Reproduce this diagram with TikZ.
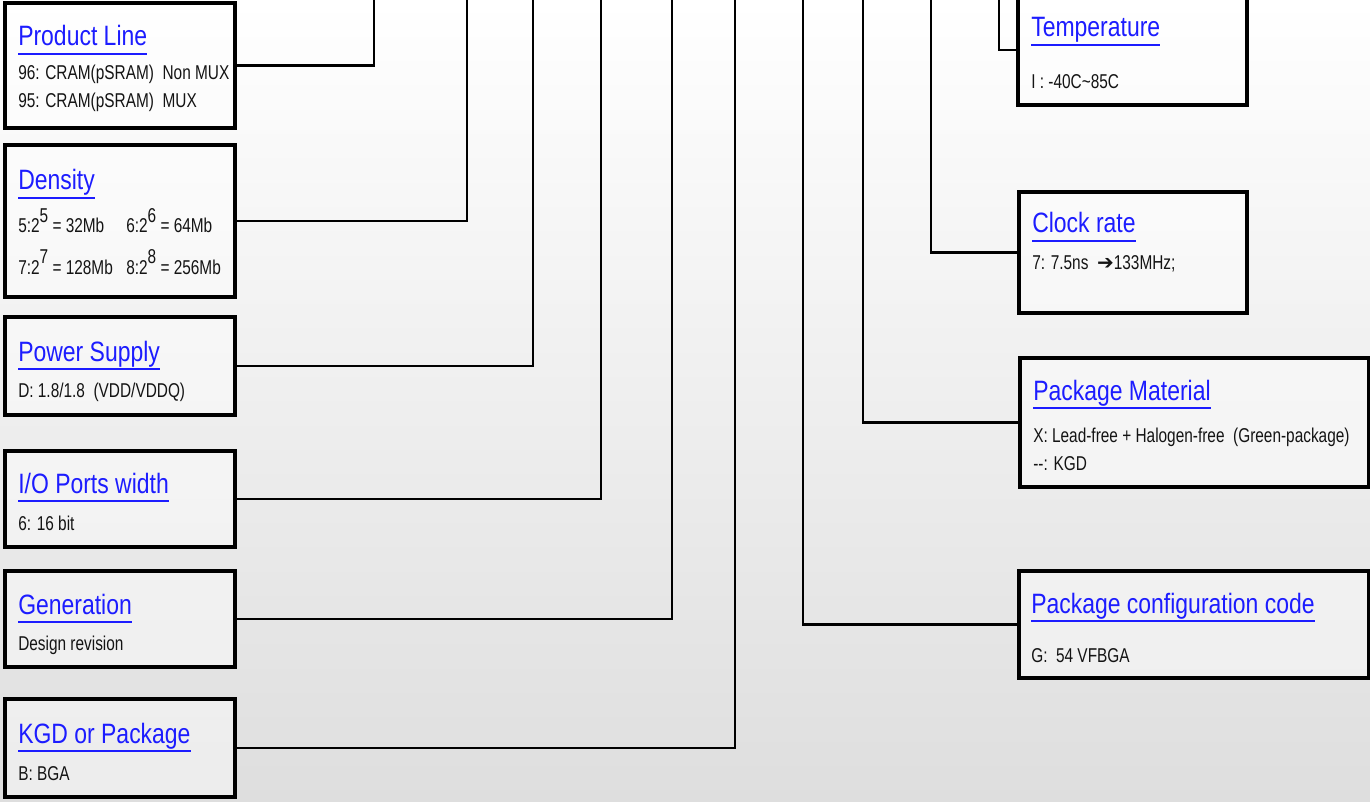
\documentclass[tikz,border=0pt]{standalone}
\usepackage{fontspec}
\setmainfont{Liberation Sans}[FakeStretch=0.82]
\newfontfamily\bodyf{Liberation Sans}[FakeStretch=0.77]
\newfontfamily\dvs{DejaVu Sans}
\usetikzlibrary{fit}
\definecolor{ttlblue}{RGB}{28,28,255}
\definecolor{txt}{RGB}{20,20,20}
\definecolor{bgbot}{RGB}{222,222,222}
\newcommand\ttl[1]{\setbox0\hbox{#1}\rlap{\rule[-6.6pt]{\wd0}{1.2pt}}\box0}
\begin{document}
\begin{tikzpicture}[x=0.75pt,y=-0.75pt,
  box/.style={draw=black, line width=2.3pt, fill=white, fill opacity=0.45, text opacity=1, inner sep=0pt},
  conn/.style={draw=black, line width=2.2pt},
  ttlnode/.style={anchor=base west, inner sep=0pt, text=ttlblue, font=\fontsize{21}{25}\selectfont},
  body/.style={anchor=base west, inner sep=0pt, text=txt, font=\bodyf\fontsize{15}{18}\selectfont}]
\useasboundingbox (0,0) rectangle (1370,802);
\clip (0,0) rectangle (1370,802);
\shade[top color=white, middle color=white!97!black, bottom color=bgbot] (0,0) rectangle (1370,802);

% left boxes
\node[box, fit={(5,3) (235,128)}] (pl) {};
\node[ttlnode] (plt) at (18,46) {\ttl{Product Line}};
\node[body] (pl1) at (18,80) {96: CRAM(pSRAM)~~Non MUX};
\node[body] (pl2) at (18,108) {95: CRAM(pSRAM)~~MUX};

\node[box, fit={(5,145) (235,297)}] (de) {};
\node[ttlnode] (det) at (18,190) {\ttl{Density}};
\node[body] (de1) at (18,233) {5:2\raisebox{8pt}{5} = 32Mb};
\node[body] (de2) at (126,233) {6:2\raisebox{8pt}{6} = 64Mb};
\node[body] (de3) at (18,274) {7:2\raisebox{8pt}{7} = 128Mb};
\node[body] (de4) at (126,274) {8:2\raisebox{8pt}{8} = 256Mb};

\node[box, fit={(5,317) (235,415)}] (ps) {};
\node[ttlnode] (pst) at (18,361) {\ttl{Power Supply}};
\node[body] (ps1) at (18,397) {D: 1.8/1.8~~(VDD/VDDQ)};

\node[box, fit={(5,451) (235,547)}] (io) {};
\node[ttlnode] (iot) at (18,493) {\ttl{I/O Ports width}};
\node[body] (io1) at (18,530) {6: 16 bit};

\node[box, fit={(5,571) (235,667)}] (ge) {};
\node[ttlnode] (get) at (18,614) {\ttl{Generation}};
\node[body] (ge1) at (18,650) {Design revision};

\node[box, fit={(5,699) (235,797)}] (kg) {};
\node[ttlnode] (kgt) at (18,743) {\ttl{KGD or Package}};
\node[body] (kg1) at (18,780) {B: BGA};

% right boxes
\node[box, fit={(1018,-5) (1247,105)}] (te) {};
\node[ttlnode] (tet) at (1031,37) {\ttl{Temperature}};
\node[body] (te1) at (1031,89) {I : -40C\textasciitilde85C};

\node[box, fit={(1019,192) (1247,313)}] (cr) {};
\node[ttlnode] (crt) at (1032,233) {\ttl{Clock rate}};
\node[body] (cr1) at (1032,270) {7: 7.5ns~~{\dvs\bfseries ➔}133MHz;};

\node[box, fit={(1020,358) (1369,487)}] (pm) {};
\node[ttlnode] (pmt) at (1033,400) {\ttl{Package Material}};
\node[body] (pm1) at (1033,442) {X: Lead-free + Halogen-free~~(Green-package)};
\node[body] (pm2) at (1033,470) {-{}-: KGD};

\node[box, fit={(1019,571) (1369,678)}] (pc) {};
\node[ttlnode] (pct) at (1031,613) {\ttl{Package configuration code}};
\node[body] (pc1) at (1031,662) {G:~~54 VFBGA};

% connector ends at top edge
\coordinate (e1) at (374,-10);
\coordinate (e2) at (467,-10);
\coordinate (e3) at (533,-10);
\coordinate (e4) at (601,-10);
\coordinate (e5) at (672,-10);
\coordinate (e6) at (735,-10);
\coordinate (e7) at (803,-10);
\coordinate (e8) at (863,-10);
\coordinate (e9) at (931,-10);
\coordinate (e10) at (999,-10);

\draw[conn] (pl.east) -| (e1);
\draw[conn] (de.east) -| (e2);
\draw[conn] (ps.east) -| (e3);
\draw[conn] (io.east) -| (e4);
\draw[conn] (ge.east) -| (e5);
\draw[conn] (kg.east) -| (e6);
\draw[conn] (pc.west) -| (e7);
\draw[conn] (pm.west) -| (e8);
\draw[conn] (cr.west) -| (e9);
\draw[conn] (te.west) -| (e10);
\end{tikzpicture}
\end{document}
